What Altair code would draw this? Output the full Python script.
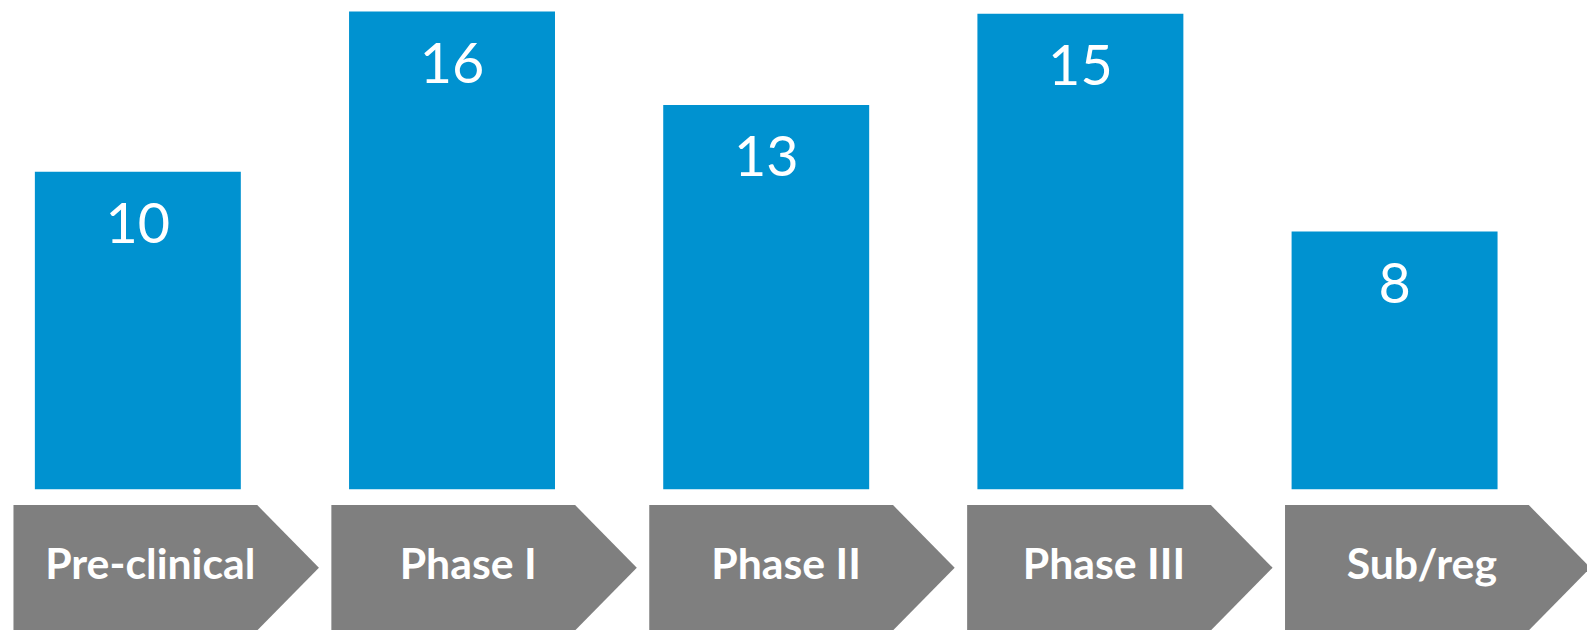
import altair as alt
import pandas as pd

# ---- data ----
stages = ["Pre-clinical", "Phase I", "Phase II", "Phase III", "Sub/reg"]
counts = [10, 16, 13, 15, 8]                     # printed numbers
bar_heights = [10.0, 15.05, 12.1, 14.98, 8.12]   # drawn bar heights (same units)

df = pd.DataFrame({"stage": stages, "count": counts, "height": bar_heights})

BLUE = "#0092D0"
GRAY = "#7F7F7F"
W, H = 1587, 622

bar_x = alt.X("stage:N", sort=stages, axis=None,
              scale=alt.Scale(type="point", range=[130.5, 1393.6], padding=0))
chev_x = alt.X("stage:N", sort=stages, axis=None,
               scale=alt.Scale(type="point", range=[159, 1437], padding=0))
y_enc = alt.Y("height:Q", axis=None,
              scale=alt.Scale(domain=[-4.389, 15.11], nice=False, zero=False))

base = alt.Chart(df)

bars = base.mark_bar(size=207, color=BLUE).encode(x=bar_x, y=y_enc)

bar_text = base.mark_text(
    font="Lato", fontSize=56, color="white", baseline="alphabetic",
    align="center", dy=71.5
).encode(x=bar_x, y=y_enc, text="count:N")

chevron_path = "M-1,-0.4104L0.596,-0.4104L1,0L0.596,0.4104L-1,0.4104Z"
chevrons = base.mark_point(
    shape=chevron_path, size=307 * 307, filled=True, color=GRAY,
    opacity=1, strokeWidth=0
).encode(x=chev_x, y=alt.value(561))

chev_text = base.mark_text(
    font="Lato", fontSize=43, fontWeight="bold", color="white",
    baseline="alphabetic", align="center", dx=-16
).encode(x=chev_x, y=alt.value(572), text="stage:N")

chart = alt.layer(bars, bar_text, chevrons, chev_text).resolve_scale(
    x="independent"
).properties(
    width=W, height=H, padding=0,
    autosize=alt.AutoSizeParams(type="none"),
).configure(
    background="white",
    view=alt.ViewConfig(stroke=None, strokeWidth=0),
)

chart.save("out.html", embed_options={"renderer": "svg", "actions": False})
